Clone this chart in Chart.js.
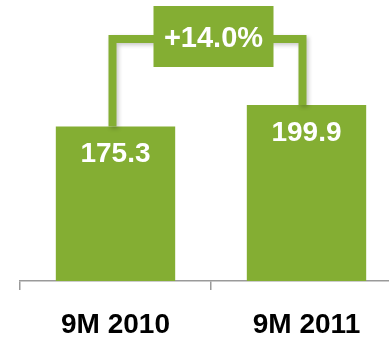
<!DOCTYPE html>
<html>
<head>
<meta charset="utf-8">
<script src="https://cdn.jsdelivr.net/npm/chart.js@4"></script>
<style>
  html, body { margin: 0; padding: 0; background: #fff; overflow: hidden; }
  #wrap { position: relative; width: 402px; height: 338px; }
</style>
</head>
<body>
<div id="wrap"><canvas id="growthChart"></canvas></div>
<script>
const periods = ['9M 2010', '9M 2011'];
const revenue = [175.3, 199.9];

const GREEN = '#84ae33';
const FONT = "Arial, 'Liberation Sans', sans-serif";

// Growth between the two periods, shown in the bracket box
const growth = (revenue[1] / revenue[0] - 1) * 100;
const growthText = (growth >= 0 ? '+' : '') + growth.toFixed(1) + '%';

// White value labels inside each bar
const valueLabels = {
  id: 'valueLabels',
  afterDatasetsDraw(chart) {
    const ctx = chart.ctx;
    const bars = chart.getDatasetMeta(0).data;
    ctx.save();
    ctx.fillStyle = '#fff';
    ctx.font = 'bold 28px ' + FONT;
    ctx.textAlign = 'center';
    ctx.textBaseline = 'middle';
    bars.forEach((bar, i) => {
      ctx.fillText(revenue[i].toFixed(1), bar.x, bar.y + 28);
    });
    ctx.restore();
  }
};

// Bracket joining the two bars with the growth box on top
const growthBracket = {
  id: 'growthBracket',
  afterDatasetsDraw(chart) {
    const ctx = chart.ctx;
    const bars = chart.getDatasetMeta(0).data;
    const x1 = bars[0].x - 3;
    const x2 = bars[1].x - 4;
    const lineY = 39;
    const boxW = 120, boxH = 61;
    const boxX = (x1 + x2) / 2 - boxW / 2 + 6;
    const boxY = 6;

    ctx.save();
    ctx.strokeStyle = GREEN;
    ctx.lineWidth = 8;
    ctx.lineJoin = 'miter';
    ctx.shadowColor = 'rgba(0,0,0,0.22)';
    ctx.shadowBlur = 4;
    ctx.shadowOffsetX = 2;
    ctx.shadowOffsetY = 2;
    ctx.beginPath();
    ctx.moveTo(x1, bars[0].y);
    ctx.lineTo(x1, lineY);
    ctx.lineTo(x2, lineY);
    ctx.lineTo(x2, bars[1].y);
    ctx.stroke();
    ctx.restore();

    ctx.save();
    ctx.fillStyle = GREEN;
    ctx.fillRect(boxX, boxY, boxW, boxH);
    ctx.fillStyle = '#fff';
    ctx.font = 'bold 29px ' + FONT;
    ctx.textAlign = 'center';
    ctx.textBaseline = 'middle';
    ctx.fillText(growthText, boxX + boxW / 2, boxY + boxH / 2 + 2);
    ctx.restore();
  }
};

new Chart(document.getElementById('growthChart'), {
  type: 'bar',
  data: {
    labels: periods,
    datasets: [{
      data: revenue,
      backgroundColor: GREEN,
      borderWidth: 0,
      categoryPercentage: 1,
      barPercentage: 0.625
    }]
  },
  options: {
    responsive: true,
    maintainAspectRatio: false,
    animation: false,
    layout: { padding: { left: 20, right: 0, top: 0, bottom: 0 } },
    plugins: {
      legend: { display: false },
      tooltip: { enabled: false }
    },
    scales: {
      x: {
        grid: {
          display: true,
          offset: true,
          drawOnChartArea: false,
          tickLength: 9,
          color: '#9a9a9a',
          lineWidth: 1.5
        },
        border: { display: true, color: '#9a9a9a', width: 1.5 },
        ticks: {
          color: '#000',
          padding: 18,
          font: { family: FONT, size: 28, weight: 'bold' }
        },
        afterFit(scale) { scale.height = 57; }
      },
      y: {
        display: false,
        min: 0,
        max: 319
      }
    }
  },
  plugins: [growthBracket, valueLabels]
});
</script>
</body>
</html>
